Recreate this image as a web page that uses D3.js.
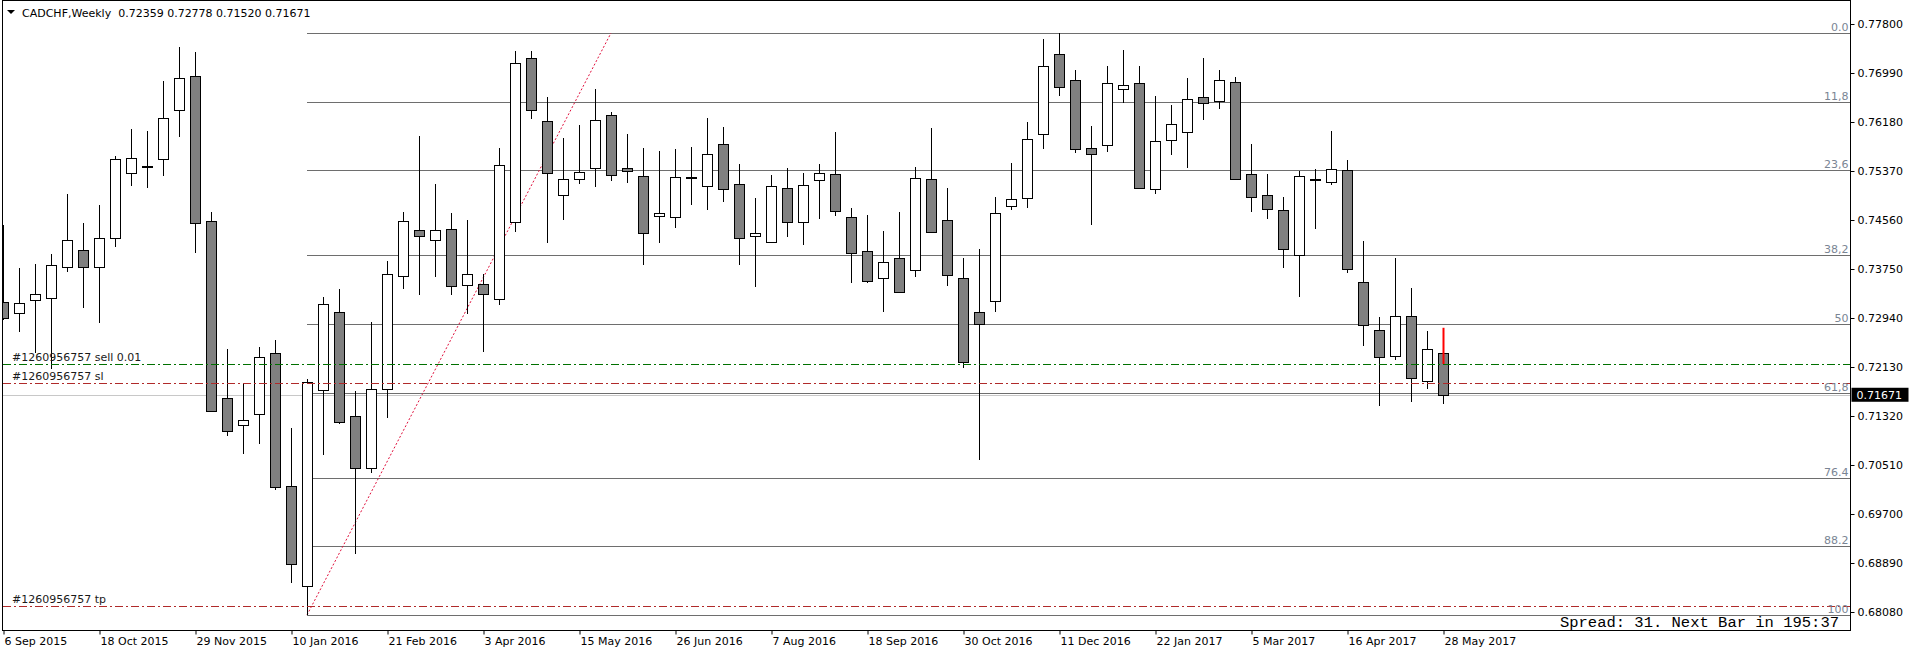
<!DOCTYPE html>
<html>
<head>
<meta charset="utf-8">
<script src="https://cdn.jsdelivr.net/npm/d3@7"></script>
<style>
  body { margin: 0; background: #fff; }
  svg { display: block; font-family: "DejaVu Sans", sans-serif; }
</style>
</head>
<body>
<div id="chart"></div>
<script>
// CADCHF weekly candles, first bar = week of 6 Sep 2015
const firstWeek = "2015-09-06";

const opens = [0.73204,0.73022,0.73237,0.73270,0.73783,0.74064,0.73783,0.74262,0.75337,0.75453,
0.75568,0.76378,0.76940,0.74543,0.71617,0.71171,0.71353,0.72361,0.70162,0.68509,
0.71749,0.73039,0.71320,0.70460,0.71766,0.73634,0.74394,0.74229,0.74411,0.73485,
0.73502,0.73254,0.74527,0.77238,0.76196,0.74973,0.75238,0.75419,0.76296,0.75419,
0.75287,0.74626,0.74609,0.75265,0.75122,0.75816,0.75155,0.74295,0.74196,0.75089,
0.74527,0.75221,0.75320,0.74609,0.74047,0.73601,0.73932,0.73733,0.75238,0.74560,
0.73601,0.73039,0.73221,0.74791,0.74924,0.75982,0.77304,0.76874,0.75750,0.75800,
0.76725,0.76825,0.75072,0.75882,0.76015,0.76593,0.76527,0.76841,0.75320,0.74973,
0.74725,0.73981,0.75238,0.75188,0.75386,0.73535,0.72741,0.72311,0.72973,0.71898,
0.72359];

const highs = [0.74477,0.73766,0.73832,0.73998,0.74990,0.74510,0.74808,0.75618,0.76064,0.76031,
0.76858,0.77420,0.77337,0.74692,0.72427,0.71865,0.72460,0.72576,0.71121,0.71931,
0.73287,0.73419,0.71733,0.72874,0.73882,0.74692,0.75948,0.75155,0.74676,0.74560,
0.73667,0.75750,0.77354,0.77354,0.76593,0.75915,0.76130,0.76725,0.76345,0.75982,
0.75750,0.75700,0.75734,0.75767,0.76246,0.76097,0.75486,0.74924,0.75304,0.75419,
0.75337,0.75486,0.76015,0.74758,0.74642,0.74378,0.74692,0.75436,0.76081,0.75089,
0.73932,0.74080,0.74940,0.75502,0.76180,0.77552,0.77651,0.77040,0.76114,0.77106,
0.77370,0.77106,0.76610,0.76461,0.76907,0.77238,0.77040,0.76924,0.75816,0.75320,
0.74940,0.75370,0.75403,0.76031,0.75552,0.74212,0.72956,0.73932,0.73436,0.72725,
0.72778];

const lows = [0.72907,0.72708,0.72361,0.72096,0.73700,0.73105,0.72857,0.74113,0.75122,0.75089,
0.75287,0.75932,0.74014,0.71386,0.70989,0.70691,0.70857,0.70096,0.68559,0.68030,
0.70675,0.71187,0.69038,0.70377,0.71286,0.73419,0.73320,0.73617,0.73320,0.73006,
0.72378,0.73155,0.74361,0.76230,0.74180,0.74560,0.75155,0.75105,0.75205,0.75171,
0.73816,0.74180,0.74428,0.74808,0.74725,0.74857,0.73816,0.73452,0.74180,0.74279,
0.74146,0.74576,0.74626,0.73518,0.73518,0.73039,0.73369,0.73617,0.74361,0.73469,
0.72113,0.70592,0.73039,0.74725,0.74758,0.75734,0.76610,0.75667,0.74477,0.75684,
0.76494,0.75089,0.74990,0.75634,0.75419,0.76213,0.76395,0.75238,0.74692,0.74576,
0.73766,0.73287,0.74411,0.75138,0.73684,0.72477,0.71485,0.72245,0.71551,0.71766,
0.71520];

const closes = [0.72940,0.73188,0.73336,0.73816,0.74229,0.73783,0.74262,0.75568,0.75585,0.75445,
0.76246,0.76907,0.74510,0.71402,0.71071,0.71253,0.72295,0.70146,0.68873,0.71882,
0.73171,0.71220,0.70460,0.71766,0.73667,0.74543,0.74295,0.74394,0.73469,0.73667,
0.73336,0.75469,0.77155,0.76378,0.75337,0.75238,0.75353,0.76213,0.75304,0.75370,
0.74345,0.74676,0.75271,0.75271,0.75651,0.75072,0.74262,0.74345,0.75122,0.74527,
0.75138,0.75337,0.74709,0.74014,0.73551,0.73865,0.73369,0.75254,0.74361,0.73651,
0.72212,0.72840,0.74676,0.74907,0.75899,0.77106,0.76759,0.75734,0.75651,0.76825,
0.76792,0.75089,0.75866,0.76147,0.76560,0.76494,0.76874,0.75238,0.74940,0.74742,
0.74080,0.75287,0.75229,0.75403,0.73750,0.72824,0.72295,0.72973,0.71948,0.72427,
0.71671];

const dateLabels = ["6 Sep 2015","18 Oct 2015","29 Nov 2015","10 Jan 2016","21 Feb 2016","3 Apr 2016",
  "15 May 2016","26 Jun 2016","7 Aug 2016","18 Sep 2016","30 Oct 2016","11 Dec 2016",
  "22 Jan 2017","5 Mar 2017","16 Apr 2017","28 May 2017"];

const priceTicks = [0.77800,0.76990,0.76180,0.75370,0.74560,0.73750,0.72940,
  0.72130,0.71320,0.70510,0.69700,0.68890,0.68080];

// fibonacci retracement, anchored low (bar 19) -> high
const fibLow = 0.68030, fibHigh = 0.77651;
const fibLowBar = 19, fibHighBar = 38;
const fibLevels = [0, 11.8, 23.6, 38.2, 50, 61.8, 76.4, 88.2, 100];
const fibLabels = ["0.0","11,8","23,6","38,2","50","61,8","76.4","88.2","100"];

// open order #1260956757
const orderLabels = ["#1260956757 sell 0.01", "#1260956757 sl", "#1260956757 tp"];
const orderPrices = [0.72179, 0.71860, 0.68174];

const symbolTitle = "CADCHF,Weekly";
const spreadText = "Spread: 31. Next Bar in 195:37";

const W = 1910, H = 654;
const LEFT = 2.5, RIGHT = 1850.5, TOP = 0.5, BOTTOM = 630.5;

const svg = d3.select("#chart").append("svg")
  .attr("width", W).attr("height", H);

const parseDay = d3.utcParse("%Y-%m-%d");
const parseLabel = d3.utcParse("%d %b %Y");
const start = parseDay(firstWeek);
const dates = opens.map((_, i) => d3.utcDay.offset(start, 7 * i));

const x = d3.scaleUtc()
  .domain([dates[0], dates[dates.length - 1]])
  .range([3, 1443]);

const y = d3.scaleLinear()
  .domain([0.68080, 0.77800])
  .range([612, 24]);

svg.append("defs").append("clipPath").attr("id", "plotclip")
  .append("rect").attr("x", 3).attr("y", 1).attr("width", RIGHT - 3).attr("height", BOTTOM - 1);

const plot = svg.append("g").attr("clip-path", "url(#plotclip)");

// fibo in background
const fibX0 = x(dates[fibLowBar]);
const fibPrice = l => fibHigh - (fibHigh - fibLow) * l / 100;

plot.selectAll(".fib").data(fibLevels).join("line")
  .attr("x1", fibX0).attr("x2", RIGHT)
  .attr("y1", d => Math.round(y(fibPrice(d))) + 0.5)
  .attr("y2", d => Math.round(y(fibPrice(d))) + 0.5)
  .attr("stroke", "#6e6e6e").attr("stroke-width", 1);

svg.selectAll(".fiblabel").data(fibLevels).join("text")
  .attr("x", RIGHT - 2)
  .attr("y", d => Math.round(y(fibPrice(d))) - 2)
  .attr("text-anchor", "end")
  .attr("font-size", 11)
  .attr("fill", "#7a8594")
  .text((d, i) => fibLabels[i]);

plot.append("line")
  .attr("x1", fibX0).attr("y1", y(fibLow))
  .attr("x2", x(dates[fibHighBar])).attr("y2", y(fibHigh))
  .attr("stroke", "#e0103c").attr("stroke-width", 1)
  .attr("stroke-dasharray", "2,2");

// bid line
plot.append("line")
  .attr("x1", 3).attr("x2", RIGHT)
  .attr("y1", Math.round(y(closes[closes.length - 1])) + 0.5)
  .attr("y2", Math.round(y(closes[closes.length - 1])) + 0.5)
  .attr("stroke", "#c8c8c8");

// candles
const bars = plot.selectAll(".bar").data(opens).join("g");

bars.append("line")
  .attr("x1", (d, i) => Math.round(x(dates[i])) + 0.5)
  .attr("x2", (d, i) => Math.round(x(dates[i])) + 0.5)
  .attr("y1", (d, i) => Math.round(y(highs[i])))
  .attr("y2", (d, i) => Math.round(y(lows[i])))
  .attr("stroke", "#000");

bars.append("rect")
  .attr("x", (d, i) => Math.round(x(dates[i])) - 4.5)
  .attr("width", 10)
  .attr("y", (d, i) => Math.round(y(Math.max(d, closes[i]))) + 0.5)
  .attr("height", (d, i) => Math.max(1, Math.round(y(Math.min(d, closes[i]))) - Math.round(y(Math.max(d, closes[i])))))
  .attr("fill", (d, i) => closes[i] > d ? "#fff" : "#808080")
  .attr("stroke", "#000").attr("stroke-width", 1);

// order lines
const orderColors = ["#007000", "#b02a2a", "#b02a2a"];
orderPrices.forEach((p, i) => {
  const yy = Math.round(y(p)) + 0.5;
  plot.append("line")
    .attr("x1", 3).attr("x2", RIGHT)
    .attr("y1", yy).attr("y2", yy)
    .attr("stroke", orderColors[i])
    .attr("stroke-dasharray", "8,3,2,3");
  svg.append("text")
    .attr("x", 12).attr("y", yy - 4)
    .attr("font-size", 11).attr("fill", "#1a1a1a")
    .text(orderLabels[i]);
});

// red trade marker on the current bar
const last = opens.length - 1;
plot.append("line")
  .attr("x1", Math.round(x(dates[last])) + 0.5)
  .attr("x2", Math.round(x(dates[last])) + 0.5)
  .attr("y1", y(highs[last])).attr("y2", y(orderPrices[0]))
  .attr("stroke", "#ff0000").attr("stroke-width", 2);

// border
svg.append("rect")
  .attr("x", LEFT).attr("y", TOP)
  .attr("width", RIGHT - LEFT).attr("height", BOTTOM - TOP)
  .attr("fill", "none").attr("stroke", "#000");

// price axis
const yAxis = svg.append("g")
  .attr("transform", `translate(${RIGHT},0)`)
  .call(d3.axisRight(y).tickValues(priceTicks).tickSize(4).tickFormat(d3.format(".5f")));
yAxis.select(".domain").remove();
yAxis.selectAll("text").attr("font-size", 11).attr("font-family", "DejaVu Sans").attr("fill", "#000");

// current price tag
const lastY = y(closes[last]);
svg.append("rect")
  .attr("x", RIGHT + 1).attr("y", lastY - 7)
  .attr("width", 57).attr("height", 14)
  .attr("fill", "#000");
svg.append("text")
  .attr("x", RIGHT + 6).attr("y", lastY + 4)
  .attr("font-size", 11).attr("fill", "#fff")
  .text(d3.format(".5f")(closes[last]));

// time axis
const xAxis = svg.append("g")
  .attr("transform", `translate(0,${BOTTOM})`)
  .call(d3.axisBottom(x)
    .tickValues(dateLabels.map(parseLabel))
    .tickSize(4)
    .tickFormat(d3.utcFormat("%-d %b %Y")));
xAxis.select(".domain").remove();
xAxis.selectAll(".tick line").attr("transform", "translate(0.5,0)");
xAxis.selectAll("text")
  .attr("text-anchor", "start").attr("dx", 1)
  .attr("font-size", 11).attr("font-family", "DejaVu Sans").attr("fill", "#000");

// header
svg.append("path").attr("d", "M7,10 L15,10 L11,14 Z").attr("fill", "#000");
svg.append("text")
  .attr("x", 22).attr("y", 17)
  .attr("font-size", 11).attr("fill", "#000")
  .attr("xml:space", "preserve")
  .text(`${symbolTitle}  ${[opens[last], highs[last], lows[last], closes[last]].map(d3.format(".5f")).join(" ")}`);

svg.append("text")
  .attr("x", 1839).attr("y", 627)
  .attr("text-anchor", "end")
  .attr("font-family", "Liberation Mono, monospace")
  .attr("font-size", 15.5).attr("fill", "#000")
  .text(spreadText);
</script>
</body>
</html>
